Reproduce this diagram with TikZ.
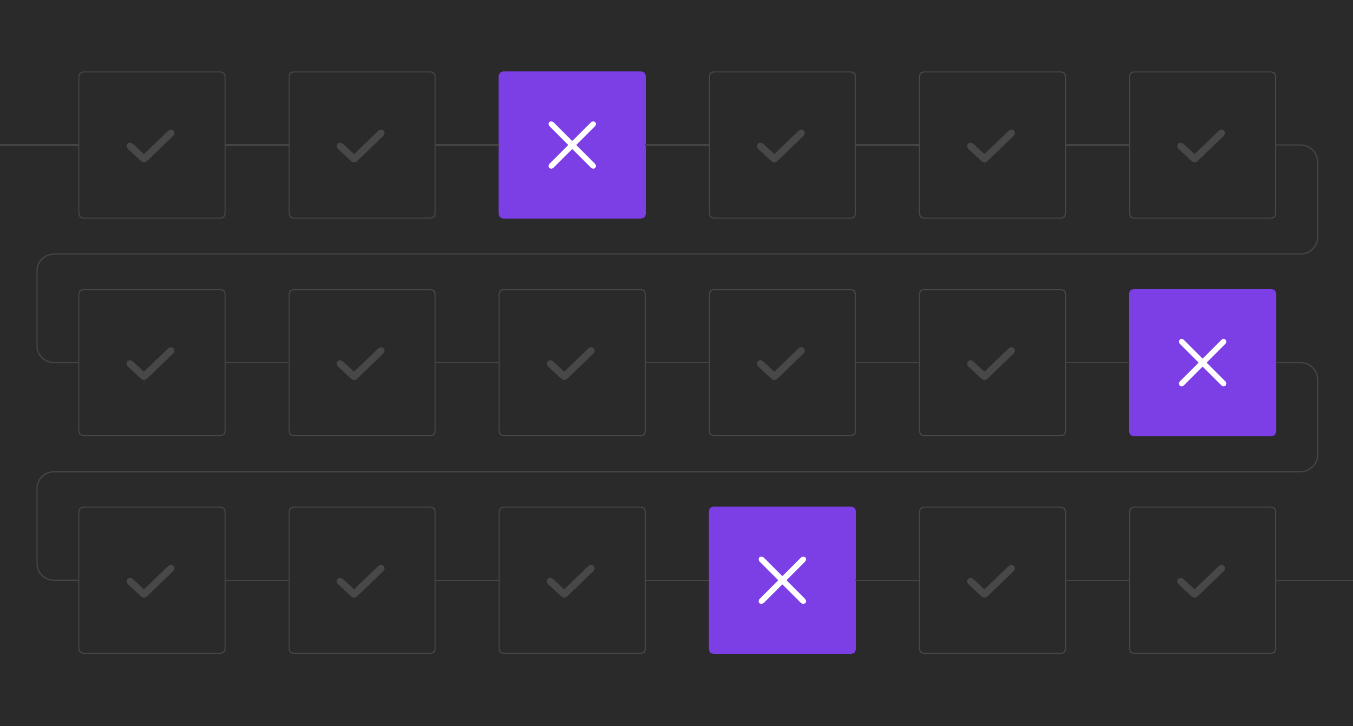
\documentclass[tikz,border=0pt]{standalone}
\usepackage{xcolor}
\usepackage{tikz}
\usetikzlibrary{positioning}

\definecolor{bg}{HTML}{2A2A2A}
\definecolor{boxline}{HTML}{474747}
\definecolor{linkgray}{HTML}{444444}
\definecolor{tickgray}{HTML}{484848}
\definecolor{failpurple}{HTML}{7C3FE6}

\begin{document}
\begin{tikzpicture}[
    x=0.01cm, y=0.01cm,
    node distance=0.64cm,
    box/.style={rectangle, draw=boxline, fill=bg, rounded corners=0.04cm, minimum size=1.46cm, inner sep=0pt, outer sep=0pt, line width=0.3pt},
    fail/.style={box, draw=failpurple, fill=failpurple},
    link/.style={draw=linkgray, line width=0.35pt, rounded corners=0.17cm},
    tick/.pic={\draw[draw=tickgray, line width=0.07cm, line cap=round, line join=round] (-22,-1) -- (-8,-14) -- (19,12);},
    cross/.pic={\draw[white, line width=0.055cm, line cap=round] (-21,-21) -- (21,21) (-21,21) -- (21,-21);}
]
\fill[bg] (0,0) rectangle (1353,726);
\useasboundingbox (0,0) rectangle (1353,726);

% first row
\node[box] (a1) at (152,581) {};
\node[box, right=of a1] (a2) {};
\node[fail, right=of a2] (a3) {};
\node[box, right=of a3] (a4) {};
\node[box, right=of a4] (a5) {};
\node[box, right=of a5] (a6) {};

% second row
\node[box, below=0.715cm of a1] (b1) {};
\node[box, right=of b1] (b2) {};
\node[box, right=of b2] (b3) {};
\node[box, right=of b3] (b4) {};
\node[box, right=of b4] (b5) {};
\node[fail, right=of b5] (b6) {};

% third row
\node[box, below=0.715cm of b1] (c1) {};
\node[box, right=of c1] (c2) {};
\node[box, right=of c2] (c3) {};
\node[fail, right=of c3] (c4) {};
\node[box, right=of c4] (c5) {};
\node[box, right=of c5] (c6) {};

% turning points
\coordinate (in) at (0,0);
\coordinate (out) at (1353,0);
\coordinate[right=0.42cm of a6] (e1);
\coordinate[right=0.42cm of b6] (e2);
\coordinate[left=0.42cm of b1] (w1);
\coordinate[left=0.42cm of c1] (w2);
\coordinate[below=0.36cm of a1] (m1);
\coordinate[below=0.36cm of b1] (m2);

\draw[link] (in |- a1) -- (a1) (a1) -- (a2) (a2) -- (a3) (a3) -- (a4) (a4) -- (a5) (a5) -- (a6);
\draw[link] (a6) -- (e1) |- (m1) -| (w1) -- (b1);
\draw[link] (b1) -- (b2) (b2) -- (b3) (b3) -- (b4) (b4) -- (b5) (b5) -- (b6);
\draw[link] (b6) -- (e2) |- (m2) -| (w2) -- (c1);
\draw[link] (c1) -- (c2) (c2) -- (c3) (c3) -- (c4) (c4) -- (c5) (c5) -- (c6) (c6) -- (out |- c6);

% marks
\pic at (a1) {tick};
\pic at (a2) {tick};
\pic at (a3) {cross};
\pic at (a4) {tick};
\pic at (a5) {tick};
\pic at (a6) {tick};
\pic at (b1) {tick};
\pic at (b2) {tick};
\pic at (b3) {tick};
\pic at (b4) {tick};
\pic at (b5) {tick};
\pic at (b6) {cross};
\pic at (c1) {tick};
\pic at (c2) {tick};
\pic at (c3) {tick};
\pic at (c4) {cross};
\pic at (c5) {tick};
\pic at (c6) {tick};
\end{tikzpicture}
\end{document}
